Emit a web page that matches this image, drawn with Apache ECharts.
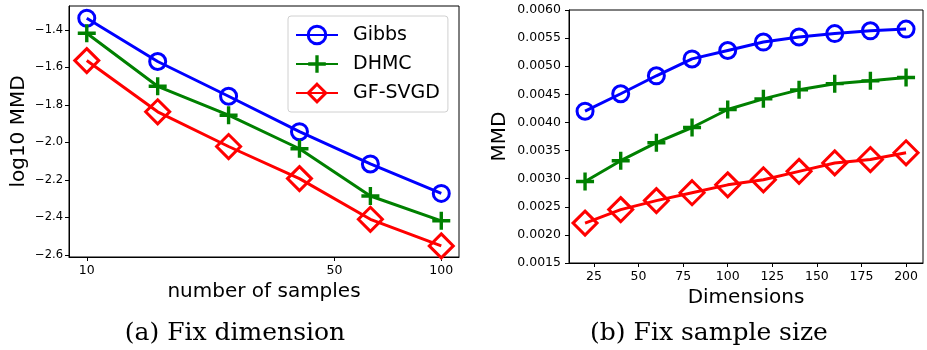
<!DOCTYPE html>
<html lang="en">
<head>
    <meta charset="UTF-8">
    <title>MMD comparison</title>
    <script src="https://cdn.jsdelivr.net/npm/echarts@6/dist/echarts.min.js"></script>
    <style>
        body { margin: 0; background: #fff; }
    </style>
</head>
<body>
    <div id="main" style="width:927px;height:350px;"></div>
</body>
<script type="text/javascript">
    // (a) number of samples, log10 MMD
    var samples = [10, 15.85, 25.12, 39.81, 63.10, 100];
    var gibbsA = [-1.338, -1.569, -1.754, -1.943, -2.115, -2.272];
    var dhmcA = [-1.418, -1.701, -1.855, -2.034, -2.286, -2.418];
    var svgdA = [-1.564, -1.837, -2.022, -2.193, -2.410, -2.552];
    var ticksAx = [10, 50, 100];
    var ticksAy = [-2.6, -2.4, -2.2, -2.0, -1.8, -1.6, -1.4];

    // (b) dimensions, MMD
    var dims = [20, 40, 60, 80, 100, 120, 140, 160, 180, 200];
    var gibbsB = [0.00420, 0.00451, 0.00483, 0.00513, 0.00528, 0.00543, 0.00552, 0.00558, 0.00563, 0.00566];
    var dhmcB = [0.00295, 0.00332, 0.00364, 0.00391, 0.00423, 0.00442, 0.00458, 0.00469, 0.00474, 0.00480];
    var svgdB = [0.00221, 0.00245, 0.00261, 0.00275, 0.00289, 0.00298, 0.00313, 0.00328, 0.00334, 0.00346];
    var ticksBx = [25, 50, 75, 100, 125, 150, 175, 200];

    var myChart = echarts.init(document.getElementById('main'));

    function pairs(xs, ys) {
        var out = [];
        for (var i = 0; i < xs.length; i++) {
            out.push([xs[i], ys[i]]);
        }
        return out;
    }

    var font = 'DejaVu Sans';
    var plusPath = 'path://M7.3,0 H10.7 V7.3 H18 V10.7 H10.7 V18 H7.3 V10.7 H0 V7.3 H7.3 Z';

    // marker styles, matplotlib-like (unfilled)
    var styles = {
        Gibbs: {color: '#0000ff', symbol: 'circle', size: 16},
        DHMC: {color: '#008000', symbol: plusPath, size: 18},
        'GF-SVGD': {color: '#ff0000', symbol: 'diamond', size: 24}
    };

    function makeSeries(name, data, idx) {
        var s = styles[name];
        var filled = name === 'DHMC';
        return {
            name: name,
            type: 'line',
            xAxisIndex: idx,
            yAxisIndex: idx,
            data: data,
            symbol: s.symbol,
            symbolSize: s.size,
            symbolKeepAspect: true,
            showAllSymbol: true,
            lineStyle: {color: s.color, width: 3},
            itemStyle: {
                color: filled ? s.color : 'rgba(255,255,255,0)',
                borderColor: s.color,
                borderWidth: filled ? 0 : 3
            },
            emphasis: {disabled: true},
            animation: false
        };
    }

    var axisCommon = {
        axisLine: {show: true, onZero: false, lineStyle: {color: '#000', width: 1}},
        axisTick: {show: true, length: 4, lineStyle: {color: '#000', width: 1}},
        splitLine: {show: false},
        nameLocation: 'middle',
        nameTextStyle: {fontFamily: font, fontSize: 20, color: '#000'}
    };

    var option = {
        backgroundColor: '#fff',
        grid: [
            {left: 69, top: 6, width: 390, height: 251, show: true, borderColor: '#000', borderWidth: 1, backgroundColor: 'transparent'},
            {left: 569, top: 10, width: 354, height: 253, show: true, borderColor: '#000', borderWidth: 1, backgroundColor: 'transparent'}
        ],
        legend: {
            orient: 'vertical',
            left: 288,
            top: 16,
            padding: [8, 8, 8, 7],
            itemWidth: 42,
            itemHeight: 22,
            itemGap: 7,
            borderColor: '#d0d0d0',
            borderWidth: 1,
            borderRadius: 3,
            backgroundColor: 'rgba(255,255,255,0.8)',
            textStyle: {fontFamily: font, fontSize: 19, color: '#000', padding: [0, 0, 0, 10], lineHeight: 22},
            data: [
                {name: 'Gibbs', itemStyle: {borderWidth: 3}},
                {name: 'DHMC'},
                {name: 'GF-SVGD', itemStyle: {borderWidth: 3}}
            ]
        },
        xAxis: [
            echarts.util.merge({
                gridIndex: 0,
                type: 'log',
                logBase: 10,
                min: 8.91,
                max: 112.2,
                name: 'number of samples',
                nameGap: 22,
                axisLabel: {customValues: ticksAx, margin: 7, fontFamily: font, fontSize: 12.5, color: '#000'},
                axisTick: {customValues: ticksAx}
            }, axisCommon),
            echarts.util.merge({
                gridIndex: 1,
                type: 'value',
                min: 11,
                max: 209.5,
                name: 'Dimensions',
                nameGap: 22,
                axisLabel: {customValues: ticksBx, margin: 7, fontFamily: font, fontSize: 12.5, color: '#000'},
                axisTick: {customValues: ticksBx}
            }, axisCommon)
        ],
        yAxis: [
            echarts.util.merge({
                gridIndex: 0,
                type: 'value',
                min: -2.611,
                max: -1.273,
                name: 'log10 MMD',
                nameGap: 40,
                axisLabel: {
                    customValues: ticksAy, margin: 6, fontFamily: font, fontSize: 11.5, color: '#000',
                    formatter: function (v) { return v.toFixed(1).replace('-', '\u2212'); }
                },
                axisTick: {customValues: ticksAy}
            }, axisCommon),
            echarts.util.merge({
                gridIndex: 1,
                type: 'value',
                min: 0.0015,
                max: 0.0060,
                interval: 0.0005,
                name: 'MMD',
                nameGap: 59,
                axisLabel: {
                    margin: 8, fontFamily: font, fontSize: 12.5, color: '#000',
                    formatter: function (v) { return v.toFixed(4); }
                }
            }, axisCommon)
        ],
        graphic: [
            {type: 'text', x: 235, y: 333, style: {text: '(a) Fix dimension', font: '25px "DejaVu Serif"', fill: '#000', textAlign: 'center', textVerticalAlign: 'middle'}},
            {type: 'text', x: 709, y: 333, style: {text: '(b) Fix sample size', font: '25px "DejaVu Serif"', fill: '#000', textAlign: 'center', textVerticalAlign: 'middle'}}
        ],
        series: [
            makeSeries('Gibbs', pairs(samples, gibbsA), 0),
            makeSeries('DHMC', pairs(samples, dhmcA), 0),
            makeSeries('GF-SVGD', pairs(samples, svgdA), 0),
            makeSeries('Gibbs', pairs(dims, gibbsB), 1),
            makeSeries('DHMC', pairs(dims, dhmcB), 1),
            makeSeries('GF-SVGD', pairs(dims, svgdB), 1)
        ]
    };

    myChart.setOption(option);
</script>
</html>
